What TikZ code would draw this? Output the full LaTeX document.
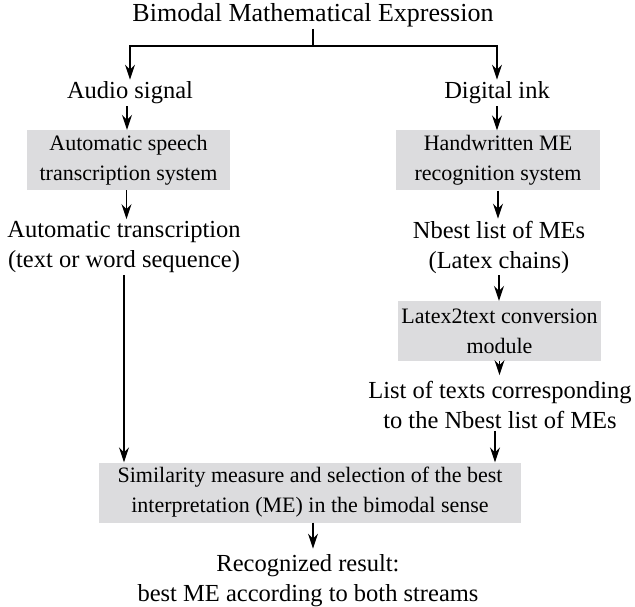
\documentclass[tikz,border=0pt]{standalone}
\usepackage{fontspec}
\setmainfont{Liberation Serif}
\usetikzlibrary{arrows.meta}
\definecolor{boxgray}{HTML}{DCDCDE}
\tikzset{
  txt/.style={align=center, inner sep=2pt, font=\fontsize{24.5}{30}\selectfont},
  gbox/.style={align=center, font=\fontsize{22}{30}\selectfont, fill=boxgray, minimum width=#1, minimum height=60pt, inner sep=0pt},
  arr/.style={line width=1.3pt, -{Stealth[length=15pt,width=10pt,inset=5pt]}},
  ln/.style={line width=1.3pt}
}
\begin{document}
\begin{tikzpicture}[x=1pt,y=-1pt]
\useasboundingbox (0,0) rectangle (635,607);
\node[txt, font=\fontsize{26}{30}\selectfont] (title) at (313,15) {Bimodal Mathematical Expression};
\coordinate (sp) at (313,46);
\node[txt] (audio) at (130,93) {Audio signal};
\node[txt] (ink) at (497,93) {Digital ink};
\node[gbox=203pt] (asr) at (128.5,160) {Automatic speech\\transcription system};
\node[gbox=204pt] (hw) at (498,160.5) {Handwritten ME\\recognition system};
\node[txt] (atr) at (124,247) {Automatic transcription\\(text or word sequence)};
\node[txt] (nbest) at (499,247) {Nbest list of MEs\\(Latex chains)};
\node[gbox=203pt] (conv) at (499.5,331) {Latex2text conversion\\module};
\node[txt] (list) at (500,405) {List of texts corresponding\\to the Nbest list of MEs};
\node[gbox=422pt] (sim) at (310,492.5) {Similarity measure and selection of the best\\interpretation (ME) in the bimodal sense};
\node[txt] (res) at (308,581) {Recognized result:\\best ME according to both streams};

\draw[ln] (title.south) -- (sp);
\draw[arr] (sp) -| (audio.north);
\draw[arr] (sp) -| (ink.north);
\draw[arr] ([xshift=-3pt]audio.south) -- ([xshift=-3pt]audio.south |- asr.north);
\draw[arr] ([xshift=-2pt]asr.south) -- ([xshift=-2pt]asr.south |- atr.north);
\draw[arr] (atr.south) -- (atr.south |- sim.north);
\draw[arr] (ink.south) -- (ink.south |- hw.north);
\draw[arr] (hw.south) -- (hw.south |- nbest.north);
\draw[arr] (nbest.south) -- (nbest.south |- conv.north);
\draw[arr] (conv.south) -- ([yshift=4pt]conv.south |- list.north);
\draw[arr] ([xshift=-5pt]list.south) -- ([xshift=-5pt]list.south |- sim.north);
\draw[arr] ([xshift=3pt]sim.south) -- ([xshift=3pt,yshift=4pt]sim.south |- res.north);
\end{tikzpicture}
\end{document}
